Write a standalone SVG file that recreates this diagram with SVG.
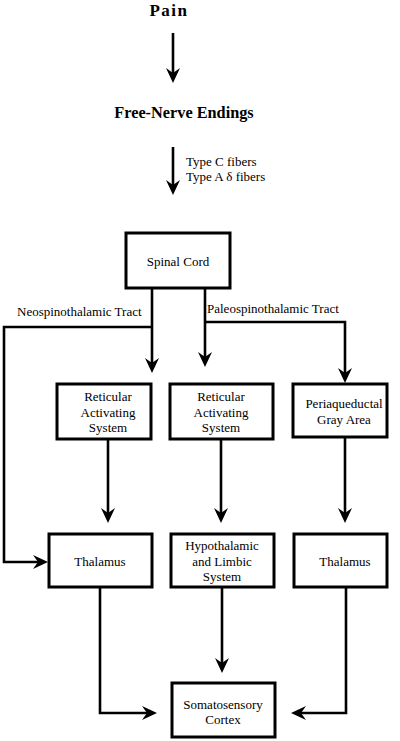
<svg xmlns="http://www.w3.org/2000/svg" width="400" height="741" viewBox="0 0 400 741">
<style>
.box{fill:#fff;stroke:#000;stroke-width:3}
.ln{fill:none;stroke:#000;stroke-width:2.6;marker-end:url(#ah)}
</style>
<defs>
<marker id="ah" markerUnits="userSpaceOnUse" viewBox="-8 -8 17 16" markerWidth="17" markerHeight="16" refX="0" refY="0" orient="auto" overflow="visible">
<path d="M8,0 L-7,-7 L-2,0 L-7,7 Z" fill="#000"/>
</marker>
</defs>
<rect width="400" height="741" fill="#fff"/>
<g id="connectors">
<path class="ln" d="M173,33 V75"/>
<path class="ln" d="M173,147 V187"/>
<path class="ln" d="M152,288 V365"/>
<path class="ln" d="M152,327 H4 V562 H40"/>
<path class="ln" d="M205,288 V359"/>
<path class="ln" d="M205,322 H345 V375"/>
<path class="ln" d="M108,439 V515"/>
<path class="ln" d="M221,439 V515"/>
<path class="ln" d="M345,437 V515"/>
<path class="ln" d="M100,587 V713 H149"/>
<path class="ln" d="M222,587 V665"/>
<path class="ln" d="M346,587 V713 H299"/>
<text font-family="Liberation Serif" font-size="13" x="186" y="166">Type C fibers</text>
<text font-family="Liberation Serif" font-size="13" x="186" y="181">Type A δ fibers</text>
<text font-family="Liberation Serif" font-size="13" x="17" y="316">Neospinothalamic Tract</text>
<text font-family="Liberation Serif" font-size="13" x="207" y="313">Paleospinothalamic Tract</text>
</g>
<g id="pain"><text font-family="Liberation Serif" font-weight="bold" font-size="17" letter-spacing="1.5" text-anchor="middle" x="169" y="15.5">Pain</text></g>
<g id="free-nerve-endings"><text font-family="Liberation Serif" font-weight="bold" font-size="16.3" text-anchor="middle" x="184" y="118">Free-Nerve Endings</text></g>
<g id="spinal-cord">
<rect class="box" x="126" y="233" width="104" height="55"/>
<text font-family="Liberation Serif" font-size="13" text-anchor="middle" x="178" y="266">Spinal Cord</text>
</g>
<g id="ras1">
<rect class="box" x="57" y="384" width="94" height="55"/>
<text font-family="Liberation Serif" font-size="13" text-anchor="middle" x="108" y="401">Reticular</text>
<text font-family="Liberation Serif" font-size="13" text-anchor="middle" x="108" y="416.5">Activating</text>
<text font-family="Liberation Serif" font-size="13" text-anchor="middle" x="108" y="432">System</text>
</g>
<g id="ras2">
<rect class="box" x="170" y="384" width="103" height="55"/>
<text font-family="Liberation Serif" font-size="13" text-anchor="middle" x="221" y="401">Reticular</text>
<text font-family="Liberation Serif" font-size="13" text-anchor="middle" x="221" y="416.5">Activating</text>
<text font-family="Liberation Serif" font-size="13" text-anchor="middle" x="221" y="432">System</text>
</g>
<g id="pag">
<rect class="box" x="293" y="384" width="94" height="53"/>
<text font-family="Liberation Serif" font-size="13" text-anchor="middle" x="344" y="408">Periaqueductal</text>
<text font-family="Liberation Serif" font-size="13" text-anchor="middle" x="344" y="424">Gray Area</text>
</g>
<g id="thalamus1">
<rect class="box" x="49" y="534" width="103" height="53"/>
<text font-family="Liberation Serif" font-size="13" text-anchor="middle" x="100" y="566">Thalamus</text>
</g>
<g id="hypothalamic">
<rect class="box" x="171" y="534" width="103" height="53"/>
<text font-family="Liberation Serif" font-size="13" text-anchor="middle" x="222" y="550">Hypothalamic</text>
<text font-family="Liberation Serif" font-size="13" text-anchor="middle" x="222" y="566">and Limbic</text>
<text font-family="Liberation Serif" font-size="13" text-anchor="middle" x="222" y="581">System</text>
</g>
<g id="thalamus2">
<rect class="box" x="294" y="534" width="93" height="53"/>
<text font-family="Liberation Serif" font-size="13" text-anchor="middle" x="345" y="566">Thalamus</text>
</g>
<g id="somatosensory">
<rect class="box" x="172" y="683" width="103" height="54"/>
<text font-family="Liberation Serif" font-size="13" text-anchor="middle" x="223" y="709">Somatosensory</text>
<text font-family="Liberation Serif" font-size="13" text-anchor="middle" x="223" y="724">Cortex</text>
</g>
</svg>
